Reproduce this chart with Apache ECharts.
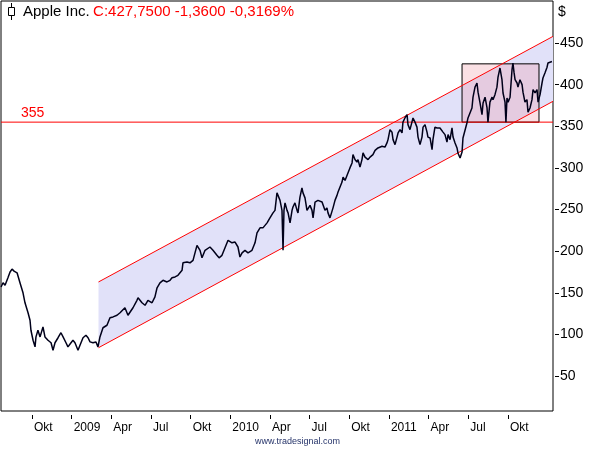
<!DOCTYPE html>
<html>
<head>
<meta charset="utf-8">
<script src="https://cdn.jsdelivr.net/npm/echarts@6/dist/echarts.min.js"></script>
<style>
  html, body { margin: 0; padding: 0; background: #fff; }
  #chart { width: 595px; height: 450px; }
</style>
</head>
<body>
<div id="chart"></div>
<script>
// x values are months counted from January 2008 (12 = Jan 2009, 24 = Jan 2010 ...)
const closeSeries = [
  [6.66,157],[6.81,162],[6.96,159],[7.18,168],[7.34,175],[7.49,178.5],[7.64,176],[7.87,174],[8.09,162],[8.32,150],
  [8.47,138],[8.70,126],[8.85,117],[8.92,105],[9.08,93],[9.23,85],[9.30,97],[9.45,105],[9.61,97],[9.83,109],
  [9.98,97],[10.21,93],[10.44,90],[10.59,81],[10.74,90],[10.97,96],[11.19,102],[11.35,97],[11.57,90],[11.72,85],
  [11.95,90],[12.10,93],[12.25,90],[12.48,81],[12.63,87],[12.86,96],[13.08,99],[13.24,96],[13.39,91],[13.61,90],
  [13.84,91],[13.99,85],[14.14,97],[14.37,108],[14.67,111],[14.90,120],[15.13,121],[15.43,123],[15.66,126],[16.03,132],
  [16.26,123],[16.41,121],[16.64,132],[16.94,141],[17.02,144],[17.32,138],[17.55,135],[17.77,141],[18.08,138],[18.30,145],
  [18.46,156],[18.68,162],[18.91,165],[19.21,163],[19.44,165],[19.59,168],[19.82,169],[20.04,171],[20.35,177],[20.42,186],
  [20.72,187],[20.95,186],[21.18,189],[21.48,207],[21.71,201],[21.86,192],[22.09,201],[22.46,205],[22.69,201],[22.99,195],
  [23.15,192],[23.37,195],[23.60,204],[23.83,213],[24.13,210],[24.36,211],[24.58,205],[24.73,193],[24.89,198],[25.11,201],
  [25.34,198],[25.64,201],[25.87,210],[26.02,222],[26.25,228],[26.47,228],[26.78,234],[27.00,240],[27.23,246],[27.38,249],
  [27.53,270],[27.61,267],[27.76,261],[27.91,249],[27.99,201],[28.06,249],[28.14,258],[28.29,249],[28.37,246],[28.52,234],
  [28.67,249],[28.74,253],[28.89,258],[29.05,249],[29.12,246],[29.27,265],[29.42,276],[29.50,270],[29.65,264],[29.80,249],
  [30.03,255],[30.18,249],[30.26,240],[30.41,259],[30.63,261],[30.94,259],[31.16,249],[31.31,252],[31.39,246],[31.54,240],
  [31.69,241],[31.77,252],[31.92,261],[32.07,267],[32.15,271],[32.45,283],[32.53,289],[32.68,285],[32.90,294],[33.05,300],
  [33.21,306],[33.28,316],[33.43,310],[33.58,307],[33.66,310],[33.81,301],[33.96,310],[34.04,318],[34.19,313],[34.42,310],
  [34.57,313],[34.79,316],[34.95,321],[35.17,324],[35.48,326],[35.70,325],[35.85,330],[35.93,334],[36.08,346],[36.23,343],
  [36.31,334],[36.46,328],[36.61,337],[36.69,342],[36.84,346],[36.99,342],[37.06,355],[37.21,360],[37.37,364],[37.44,352],
  [37.59,346],[37.74,355],[37.82,360],[37.97,355],[38.12,349],[38.20,337],[38.35,328],[38.50,337],[38.58,349],[38.73,352],
  [38.88,343],[38.95,337],[39.11,336],[39.26,322],[39.33,334],[39.48,349],[39.64,348],[39.86,348],[40.09,343],[40.24,340],
  [40.39,331],[40.47,340],[40.62,334],[40.77,348],[40.85,337],[41.00,330],[41.15,324],[41.22,318],[41.38,312],[41.53,319],
  [41.60,336],[41.75,334],[41.90,354],[41.98,360],[42.13,358],[42.28,372],[42.36,385],[42.51,397],[42.66,402],[42.74,391],
  [42.89,378],[43.04,364],[43.12,378],[43.27,385],[43.42,372],[43.49,355],[43.64,379],[43.80,385],[43.87,382],[44.02,388],
  [44.17,397],[44.25,409],[44.40,420],[44.55,406],[44.63,390],[44.78,379],[44.85,355],[44.93,384],[45.01,379],[45.16,385],
  [45.31,418],[45.38,426],[45.46,415],[45.54,406],[45.69,402],[45.76,397],[45.91,406],[46.07,400],[46.14,391],[46.29,379],
  [46.44,382],[46.52,367],[46.67,372],[46.82,382],[46.90,394],[47.05,390],[47.20,394],[47.28,379],[47.43,388],[47.58,402],
  [47.65,408],[47.80,414],[47.96,421],[48.03,426],[48.18,424],[48.33,427.75]
];

// trend channel (start month, end month) and its upper / lower bounds
const channelX = [14.03, 48.41];
const channelUpper = [163, 458];
const channelLower = [84, 380];
// consolidation box (months, price range)
const boxX = [41.53, 47.35];
const boxY = [355, 425];
// horizontal support level
const levelValue = 355;

// axis ticks
const xTickValues = [9, 12, 15, 18, 21, 24, 27, 30, 33, 36, 39, 42, 45];
const xTickLabels = ['Okt', '2009', 'Apr', 'Jul', 'Okt', '2010', 'Apr', 'Jul', 'Okt', '2011', 'Apr', 'Jul', 'Okt'];
const yTickValues = [50, 100, 150, 200, 250, 300, 350, 400, 450];
const xRange = [6.655, 48.41];
const yRange = [8, 500.5];

const FONT = 'Liberation Sans, Arial, sans-serif';
const chart = echarts.init(document.getElementById('chart'), null, { renderer: 'canvas' });

const headerGraphics = [
  { type: 'line', shape: { x1: 11.5, y1: 3, x2: 11.5, y2: 20 }, style: { stroke: '#000', lineWidth: 1 } },
  { type: 'rect', shape: { x: 8.5, y: 7.5, width: 6, height: 8 }, style: { fill: '#fff', stroke: '#000', lineWidth: 1 } },
  {
    type: 'text', left: 23, top: 4,
    style: {
      text: '{a|Apple Inc.} {b|C:427,7500 -1,3600 -0,3169%}',
      rich: {
        a: { fill: '#000', fontFamily: FONT, fontSize: 15 },
        b: { fill: '#ff0000', fontFamily: FONT, fontSize: 15 }
      }
    }
  },
  { type: 'text', left: 558, top: 5, style: { text: '$', fill: '#000', fontFamily: FONT, fontSize: 14 } },
  { type: 'text', left: 'center', top: 437, style: { text: 'www.tradesignal.com', fill: '#26346a', fontFamily: FONT, fontSize: 9 } }
];

const option = {
  animation: false,
  backgroundColor: '#ffffff',
  grid: {
    left: 1, top: 1, right: 42, bottom: 39,
    show: true, borderColor: '#000', borderWidth: 1, backgroundColor: 'transparent'
  },
  xAxis: {
    type: 'value', min: xRange[0], max: xRange[1],
    position: 'bottom', offset: 4,
    axisLine: { show: false },
    splitLine: { show: false },
    axisTick: { show: true, length: 4, lineStyle: { color: '#000' }, customValues: xTickValues },
    axisLabel: {
      customValues: xTickValues,
      formatter: v => xTickLabels[xTickValues.indexOf(Math.round(v))] || '',
      align: 'left', padding: [0, 0, 0, 2], margin: 7,
      color: '#000', fontFamily: FONT, fontSize: 12
    }
  },
  yAxis: {
    type: 'value', min: yRange[0], max: yRange[1],
    position: 'right', offset: 2,
    axisLine: { show: false },
    splitLine: { show: false },
    axisTick: { show: true, length: 4, lineStyle: { color: '#000' }, customValues: yTickValues },
    axisLabel: {
      customValues: yTickValues, margin: 5,
      color: '#000', fontFamily: FONT, fontSize: 14
    }
  },
  series: [
    {
      type: 'custom', z: 1, clip: true,
      data: [[channelX[0], channelLower[0]]],
      encode: { x: 0, y: 1 },
      renderItem: function (params, api) {
        if (params.dataIndex !== 0) return;
        const ul = api.coord([channelX[0], channelUpper[0]]);
        const ur = api.coord([channelX[1], channelUpper[1]]);
        const ll = api.coord([channelX[0], channelLower[0]]);
        const lr = api.coord([channelX[1], channelLower[1]]);
        const b0 = api.coord([boxX[0], boxY[1]]);
        const b1 = api.coord([boxX[1], boxY[0]]);
        const h0 = api.coord([xRange[0], levelValue]);
        const h1 = api.coord([xRange[1], levelValue]);
        return {
          type: 'group',
          children: [
            { type: 'polygon', shape: { points: [ul, ur, lr, ll] }, style: { fill: '#e1e1f9' } },
            { type: 'rect', shape: { x: b0[0], y: b0[1], width: b1[0] - b0[0], height: b1[1] - b0[1] },
              style: { fill: 'rgba(238,160,170,0.32)', stroke: '#000', lineWidth: 1 } },
            { type: 'line', shape: { x1: h0[0], y1: h0[1], x2: h1[0], y2: h1[1] }, style: { stroke: '#ff0000', lineWidth: 1 } },
            { type: 'line', shape: { x1: ul[0], y1: ul[1], x2: ur[0], y2: ur[1] }, style: { stroke: '#ff0000', lineWidth: 1 } },
            { type: 'line', shape: { x1: ll[0], y1: ll[1], x2: lr[0], y2: lr[1] }, style: { stroke: '#ff0000', lineWidth: 1 } }
          ]
        };
      }
    },
    {
      type: 'line', z: 5,
      data: closeSeries,
      showSymbol: false, symbol: 'none',
      lineStyle: { color: '#00001a', width: 1.5 },
      silent: true
    }
  ],
  graphic: headerGraphics
};
chart.setOption(option);

const levelY = chart.convertToPixel({ yAxisIndex: 0 }, levelValue);
chart.setOption({
  graphic: headerGraphics.concat([
    { type: 'text', left: 21, top: levelY - 16, style: { text: String(levelValue), fill: '#ff0000', fontFamily: FONT, fontSize: 14 } }
  ])
});
</script>
</body>
</html>
